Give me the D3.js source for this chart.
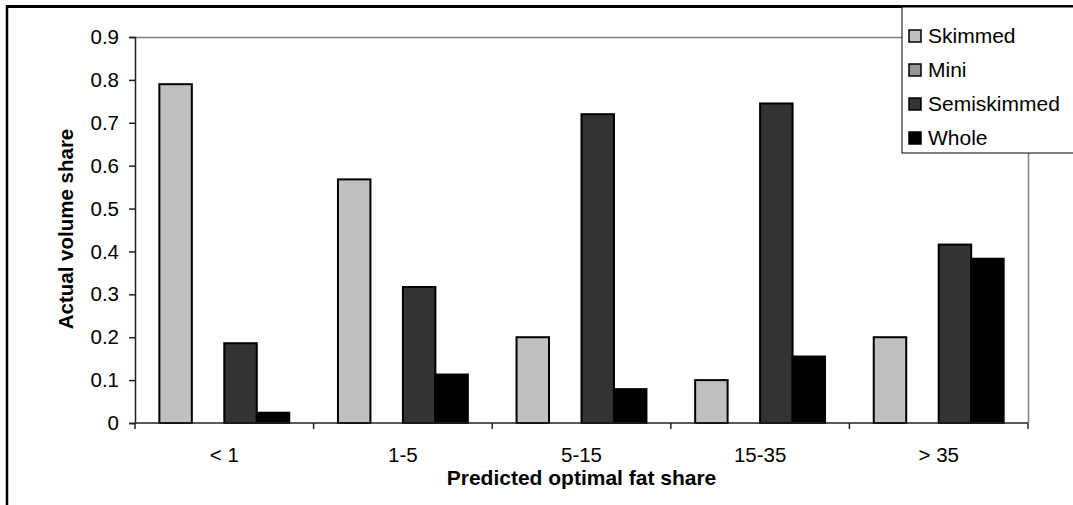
<!DOCTYPE html>
<html>
<head>
<meta charset="utf-8">
<script src="https://cdn.jsdelivr.net/npm/d3@7"></script>
<style>
  body { margin: 0; background: #fff; }
  svg { display: block; font-family: "Liberation Sans", Arial, sans-serif; }
</style>
</head>
<body>
<div id="container"></div>
<script>
// chart data
const categories = ['< 1', '1-5', '5-15', '15-35', '> 35'];
const seriesNames = ['Skimmed', 'Mini', 'Semiskimmed', 'Whole'];
const skimmed = [0.79, 0.568, 0.2, 0.1, 0.2];
const mini = [0, 0, 0, 0, 0];
const semiskimmed = [0.186, 0.317, 0.72, 0.745, 0.416];
const whole = [0.024, 0.113, 0.079, 0.155, 0.383];
const yTicks = [0, 0.1, 0.2, 0.3, 0.4, 0.5, 0.6, 0.7, 0.8, 0.9];
const colors = ['#c0c0c0', '#969696', '#333333', '#000000'];

const seriesValues = [skimmed, mini, semiskimmed, whole];

const width = 1073, height = 505;
const plot = {left: 135, right: 1028, top: 37, bottom: 423};

const svg = d3.select('#container')
    .append('svg')
    .attr('width', width)
    .attr('height', height);

// outer frame (only top and left visible)
svg.append('line')
    .attr('x1', 6).attr('x2', width).attr('y1', 6.5).attr('y2', 6.5)
    .attr('stroke', '#000').attr('stroke-width', 3);
svg.append('line')
    .attr('x1', 7).attr('x2', 7).attr('y1', 6).attr('y2', height)
    .attr('stroke', '#000').attr('stroke-width', 2.5);

const x0 = d3.scaleBand().domain(categories).range([plot.left, plot.right]);
const barW = x0.bandwidth() / 5.5;
const x1 = d3.scaleBand().domain(seriesNames)
    .range([barW * 0.75, x0.bandwidth() - barW * 0.75]);
const y = d3.scaleLinear().domain([0, 0.9]).range([plot.bottom, plot.top]);

// plot area border (top and right, grey)
svg.append('line')
    .attr('x1', plot.left).attr('x2', plot.right)
    .attr('y1', plot.top + 0.5).attr('y2', plot.top + 0.5)
    .attr('stroke', '#808080').attr('stroke-width', 1.5);
svg.append('line')
    .attr('x1', plot.right + 0.5).attr('x2', plot.right + 0.5)
    .attr('y1', plot.top).attr('y2', plot.bottom)
    .attr('stroke', '#808080').attr('stroke-width', 1.5);

// bars
const groups = svg.append('g').selectAll('g')
    .data(seriesNames)
    .enter()
    .append('g')
    .attr('fill', (d, i) => colors[i]);

groups.selectAll('rect')
    .data((s, i) => seriesValues[i].map((v, j) => ({s, v, cat: categories[j]})))
    .enter()
    .filter(d => d.v > 0)
    .append('rect')
    .attr('x', d => x0(d.cat) + x1(d.s))
    .attr('y', d => y(d.v))
    .attr('width', x1.bandwidth())
    .attr('height', d => y(0) - y(d.v))
    .attr('stroke', '#000')
    .attr('stroke-width', 2);

// y axis
const yAxis = d3.axisLeft(y)
    .tickValues(yTicks)
    .tickSize(6)
    .tickPadding(10)
    .tickFormat(d => d === 0 ? '0' : d3.format('.1f')(d));

svg.append('g')
    .attr('transform', 'translate(' + plot.left + ',0)')
    .call(yAxis)
    .call(g => g.select('.domain').attr('stroke', '#222').attr('stroke-width', 1.5))
    .call(g => g.selectAll('.tick line').attr('stroke', '#222').attr('stroke-width', 1.5))
    .call(g => g.selectAll('.tick text')
        .attr('fill', '#000')
        .style('font-size', '20.5px'));

// x axis: labels centred, ticks at category boundaries
const xAxis = d3.axisBottom(x0).tickSize(0).tickPadding(24);
svg.append('g')
    .attr('transform', 'translate(0,' + plot.bottom + ')')
    .call(xAxis)
    .call(g => g.select('.domain').remove())
    .call(g => g.selectAll('.tick text')
        .attr('fill', '#000')
        .style('font-size', '20.5px'));

const xAxisLine = svg.append('g');
xAxisLine.append('line')
    .attr('x1', plot.left).attr('x2', plot.right)
    .attr('y1', plot.bottom).attr('y2', plot.bottom)
    .attr('stroke', '#222').attr('stroke-width', 1.5);
xAxisLine.selectAll('.bound')
    .data(categories.concat(['end']))
    .enter()
    .append('line')
    .attr('class', 'bound')
    .attr('x1', (d, i) => i < categories.length ? x0(d) : plot.right)
    .attr('x2', (d, i) => i < categories.length ? x0(d) : plot.right)
    .attr('y1', plot.bottom)
    .attr('y2', plot.bottom + 6)
    .attr('stroke', '#222').attr('stroke-width', 1.5);

// axis titles
svg.append('text')
    .attr('x', (plot.left + plot.right) / 2)
    .attr('y', 485)
    .attr('text-anchor', 'middle')
    .style('font-size', '21px')
    .style('font-weight', 'bold')
    .text('Predicted optimal fat share');

svg.append('text')
    .attr('transform', 'translate(73,' + 229 + ') rotate(-90)')
    .attr('text-anchor', 'middle')
    .style('font-size', '20.5px')
    .style('font-weight', 'bold')
    .text('Actual volume share');

// legend
const legend = svg.append('g').attr('transform', 'translate(902,7)');
legend.append('rect')
    .attr('x', 0).attr('y', 0)
    .attr('width', 175).attr('height', 146)
    .attr('fill', '#fff')
    .attr('stroke', '#000').attr('stroke-width', 1);

const items = legend.selectAll('.item')
    .data(seriesNames)
    .enter()
    .append('g')
    .attr('transform', (d, i) => 'translate(7,' + (29 + i * 34) + ')');

items.append('rect')
    .attr('x', 0).attr('y', -6)
    .attr('width', 12).attr('height', 12)
    .attr('fill', (d, i) => colors[i])
    .attr('stroke', '#000').attr('stroke-width', 1.5);

items.append('text')
    .attr('x', 19)
    .attr('y', 7)
    .style('font-size', '21px')
    .text(d => d);
</script>
</body>
</html>
